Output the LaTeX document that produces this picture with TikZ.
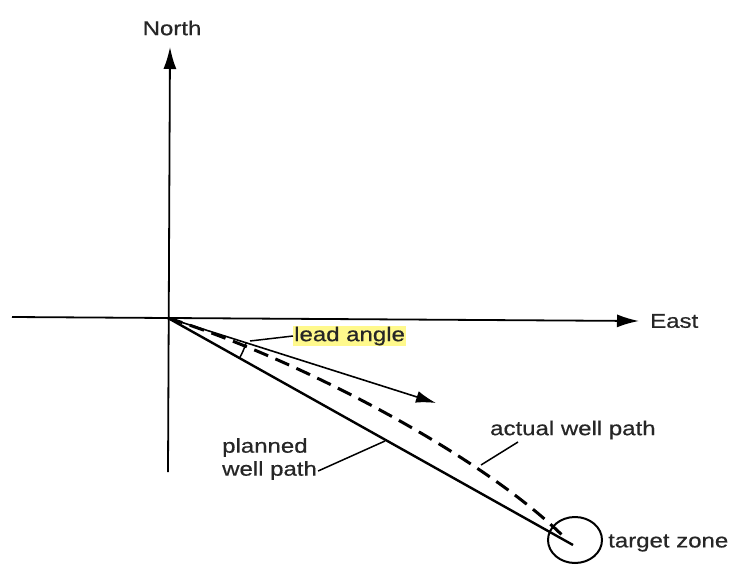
\documentclass[tikz,border=0pt]{standalone}
\usepackage{fontspec}
\setmainfont{Liberation Sans}[FakeStretch=1.2,FakeBold=0.6]
\usetikzlibrary{arrows.meta,shapes.geometric}
\begin{document}
\begin{tikzpicture}[x=1pt,y=-1pt,
  lbl/.style={font=\fontsize{20}{23}\selectfont, inner sep=1pt, text=black!85},
  axis/.style={line width=1.8pt, -{Latex[length=22pt,width=13pt]}},
  leader/.style={line width=1.5pt},
  hilite/.style={fill=yellow!45}]
\useasboundingbox (0,0) rectangle (731,565);
% nodes and coordinates
\coordinate (O) at (168,318);
\coordinate (xL) at (12,317);
\coordinate (xR) at (639,321);
\coordinate (yB) at (168,472);
\coordinate (yT) at (170,47);
\coordinate (T) at (573,545);
\coordinate (D) at (562,535);
\coordinate (L) at (436,403);
\node[lbl] (north) at (172,28) {North};
\node[lbl, anchor=west] (east) at (649,321) {East};
\node[lbl, anchor=west, hilite] (lead) at (293,336) {lead angle};
\node[lbl, anchor=west, align=left] (planned) at (221,459) {planned\\well path};
\node[lbl, anchor=west] (actual) at (489,430) {actual well path};
\node[lbl, anchor=west] (target) at (607,543) {target zone};
\node[draw, ellipse, line width=2pt, minimum width=54pt, minimum height=46pt, inner sep=0pt] (zone) at (575,540) {};
% axes
\draw[axis] (xL) -- (xR);
\draw[axis] (yB) -- (yT);
% planned path
\draw[line width=2.4pt] (O) -- (T);
% actual path
\draw[line width=3pt, dash pattern=on 15pt off 8pt] (O) .. controls (301,360) and (480,455) .. (D);
% lead direction
\draw[line width=1.6pt, -{Latex[length=20pt,width=12pt]}] (O) -- (L);
% lead angle arc
\draw[line width=1.5pt] (O) ++(17.7:82) arc[start angle=17.7, end angle=29.3, radius=82];
% leaders
\coordinate (la) at (250,341);
\draw[leader] (lead.west) -- (la);
\coordinate (pa) at (385,441);
\draw[leader] (planned.east |- 0,471) -- (pa);
\coordinate (as) at (518,442);
\coordinate (aa) at (481,465);
\draw[leader] (as) -- (aa);
\end{tikzpicture}
\end{document}
